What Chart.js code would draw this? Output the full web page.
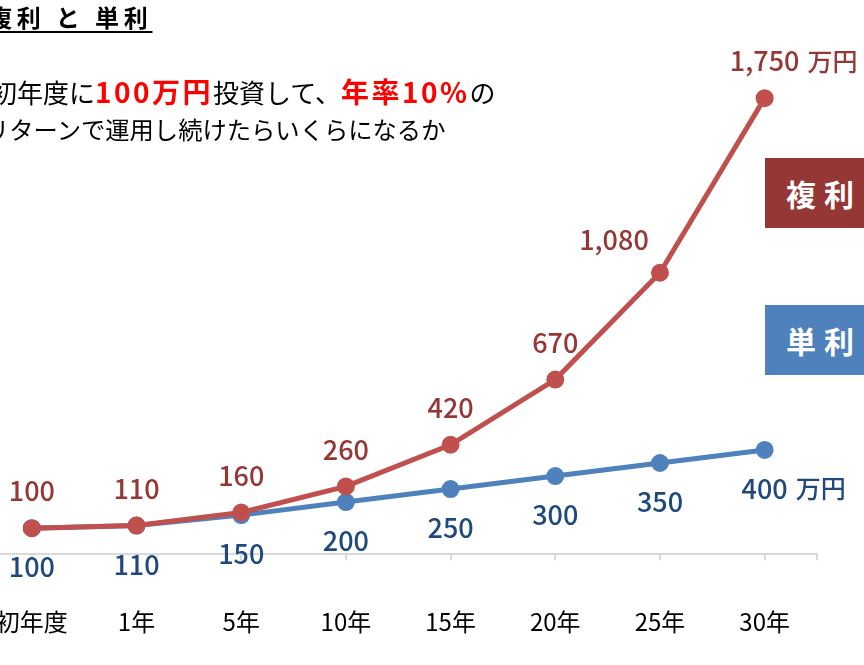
<!DOCTYPE html>
<html><head><meta charset="utf-8">
<script src="https://cdn.jsdelivr.net/npm/chart.js@4.4.0/dist/chart.umd.min.js"></script>
<style>
html,body{margin:0;padding:0;background:#fff;overflow:hidden;}
body{width:864px;height:665px;position:relative;font-family:"Noto Sans CJK JP","Noto Sans",sans-serif;}
#wrap{position:absolute;left:-60px;top:0;width:924px;height:712px;}
.title{position:absolute;left:-12px;top:1px;font-size:24px;font-weight:bold;letter-spacing:4.8px;text-decoration:underline;text-underline-offset:4px;text-decoration-thickness:2px;white-space:pre;line-height:32px;color:#000;}
.sub{position:absolute;color:#000;white-space:pre;line-height:34px;}
.sub .r{color:#ff0000;font-weight:bold;font-size:28px;letter-spacing:2.5px;}
.box{position:absolute;left:765px;width:120px;height:70px;color:#fff;font-weight:bold;font-size:30px;letter-spacing:8px;line-height:70px;padding-left:21px;box-sizing:border-box;}
</style></head>
<body>
<div id="wrap"><canvas id="c"></canvas></div>
<div class="title">複利 と 単利</div>
<div class="sub" style="top:74px;left:-9px;font-size:26px">初年度に<span class="r">100万円</span>投資して、<span class="r">年率10%</span>の</div>
<div class="sub" style="top:112px;left:-15px;font-size:24.3px">リターンで運用し続けたらいくらになるか</div>
<div class="box" style="top:158px;background:#953735">複利</div>
<div class="box" style="top:305px;background:#4F81BD">単利</div>
<script>
const categories = ["初年度","1年","5年","10年","15年","20年","25年","30年"];
const compoundValues = [100,110,160,260,420,670,1080,1750];
const simpleValues = [100,110,150,200,250,300,350,400];
const unitLabel = "万円";

const labelStyle = {
  0: {color:"#953735", dy:-37, special:{6:{dx:-46,dy:-33}}},
  1: {color:"#1F497D", dy:39, special:{}}
};

const toPts = arr => arr.map((v,i)=>({x:i,y:v}));

const labelPlugin = {
  id:'vlabels',
  afterDatasetsDraw(chart){
    const ctx = chart.ctx;
    chart.data.datasets.forEach((ds,di)=>{
      const meta = chart.getDatasetMeta(di);
      const st = labelStyle[di];
      meta.data.forEach((pt,i)=>{
        const v = ds.data[i].y;
        const sp = st.special[i] || {dx:0,dy:st.dy};
        const txt = v.toLocaleString('en-US');
        const x = pt.x + sp.dx, y = pt.y + sp.dy;
        ctx.save();
        ctx.fillStyle = st.color;
        ctx.font = '500 27px "Noto Sans CJK JP"';
        ctx.textAlign = 'center';
        ctx.textBaseline = 'middle';
        ctx.fillText(txt, x, y);
        if (i === ds.data.length-1){
          const w = ctx.measureText(txt).width;
          ctx.textAlign = 'left';
          ctx.font = '500 25px "Noto Sans CJK JP"';
          ctx.fillText(unitLabel, x + w/2 + 8, y);
        }
        ctx.restore();
      });
    });
  }
};

new Chart(document.getElementById('c'), {
  type:'line',
  data:{
    datasets:[
      {label:'複利', data:toPts(compoundValues), borderColor:'#C0504D', backgroundColor:'#C0504D', pointBackgroundColor:'#C0504D', pointBorderColor:'#C0504D', borderWidth:5, pointRadius:6.5, tension:0},
      {label:'単利', data:toPts(simpleValues), borderColor:'#4F81BD', backgroundColor:'#4F81BD', pointBackgroundColor:'#4F81BD', pointBorderColor:'#4F81BD', borderWidth:5, pointRadius:6.5, tension:0}
    ]
  },
  options:{
    responsive:true, maintainAspectRatio:false, animation:false,
    layout:{padding:{left:39.5,right:44.5,top:33,bottom:29}},
    plugins:{legend:{display:false},tooltip:{enabled:false}},
    scales:{
      x:{type:'linear', min:-0.5, max:7.5,
        afterBuildTicks(scale){ scale.ticks = categories.map((c,i)=>({value:i})).concat([{value:7.5}]); },
        grid:{display:true, drawOnChartArea:false, drawTicks:true, tickLength:6, color:'#d9d9d9', lineWidth:2},
        border:{display:true, color:'#d9d9d9', width:2},
        ticks:{autoSkip:false, maxRotation:0, padding:47, color:'#000', font:{family:'"Noto Sans CJK JP"', size:24},
          callback:(v)=> Number.isInteger(v) ? categories[v] : ''}
      },
      y:{display:false, min:0, max:2000}
    }
  },
  plugins:[labelPlugin]
});
</script>
</body></html>
